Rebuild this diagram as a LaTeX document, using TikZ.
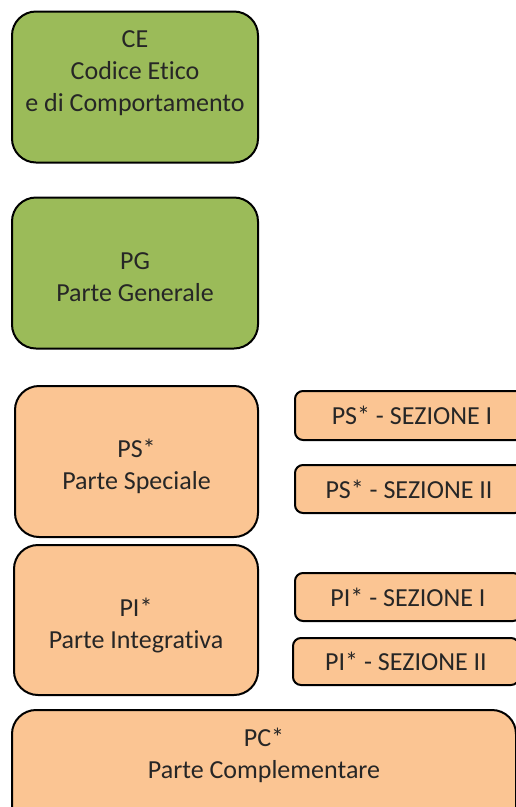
\documentclass[tikz,border=0pt]{standalone}
\usepackage{fontspec}
\setmainfont{Carlito}[Ligatures=NoCommon]
\usepackage{xcolor}
\usepackage{tikz}
\usetikzlibrary{positioning}

\definecolor{cegreen}{HTML}{9BBB59}
\definecolor{partorange}{HTML}{FBC593}
\definecolor{inkgray}{HTML}{262626}

\begin{document}
\begin{tikzpicture}[
    x=1pt, y=-1pt,
    every node/.style={draw=black, line width=2pt, rounded corners=24pt, align=center,
        text=inkgray, font=\fontsize{26}{32}\selectfont},
    mainbox/.style={minimum width=246pt, minimum height=151pt},
    greenbox/.style={mainbox, fill=cegreen},
    orangebox/.style={mainbox, fill=partorange},
    lowtext/.style={text height=62pt, text depth=6pt},
    sezbox/.style={fill=partorange, rounded corners=8pt, minimum height=48pt}
]
\useasboundingbox (0,0) rectangle (516,807);
\clip (0,0) rectangle (516,807);

% colonna principale
\node[greenbox] (ce) at (135,87) {CE\\Codice Etico\\e di Comportamento\\\mbox{}};
\node[greenbox, lowtext] (pg) at (135,273) {PG\\Parte Generale};
\node[orangebox, lowtext, minimum width=243pt] (ps) at (136.5,461.5) {PS*\\Parte Speciale};
\node[orangebox, lowtext, minimum width=244pt, minimum height=150pt] (pi) at (136,620) {PI*\\Parte Integrativa};
\node[orangebox, minimum width=504pt, minimum height=150pt] (pc) at (264,785) {PC*\\Parte Complementare\\\mbox{}\\\mbox{}};

% sezioni
\node[sezbox, minimum width=234pt, minimum height=49pt] (psI) at (412,415.5) {PS* - SEZIONE I};
\node[sezbox, minimum width=228pt] (psII) at (409,489) {PS* - SEZIONE II};
\node[sezbox, minimum width=226pt] (piI) at (408,597) {PI* - SEZIONE I};
\node[sezbox, minimum width=226pt, minimum height=47pt] (piII) at (406,661.5) {PI* - SEZIONE II};
\end{tikzpicture}
\end{document}
